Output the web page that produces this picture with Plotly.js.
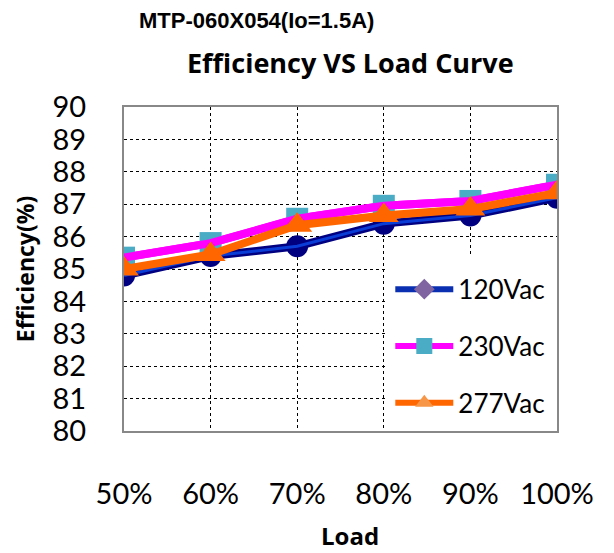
<!DOCTYPE html>
<html><head><meta charset="utf-8">
<script src="https://cdn.plot.ly/plotly-3.0.1.min.js"></script>
<style>html,body{margin:0;padding:0;background:#fff}#chart{width:614px;height:553px}</style>
</head><body><div id="chart"></div>
<script>
const loads = [50, 60, 70, 80, 90, 100];
const loadLabels = ['50%', '60%', '70%', '80%', '90%', '100%'];
const eff120 = [84.8, 85.4, 85.7, 86.4, 86.65, 87.2];
const eff230 = [85.35, 85.8, 86.55, 86.95, 87.1, 87.6];
const eff277 = [85.0, 85.45, 86.35, 86.65, 86.85, 87.35];
const seriesNames = ['120Vac', '230Vac', '277Vac'];
const yTicks = [80, 81, 82, 83, 84, 85, 86, 87, 88, 89, 90];

const traces = [
  {x: loads, y: eff120, mode: 'lines+markers', showlegend: false,
   line: {color: '#000080', width: 8}, marker: {symbol: 'circle', size: 22, color: '#000080'}},
  {x: loads, y: eff120, mode: 'lines', showlegend: false, hoverinfo: 'skip',
   line: {color: '#0a3cd6', width: 3}},
  {x: loads, y: eff230, mode: 'lines+markers', showlegend: false,
   line: {color: '#ff00ff', width: 8}, marker: {symbol: 'square', size: 22, color: '#4bacc6'}},
  {x: loads, y: eff230, mode: 'lines', showlegend: false, hoverinfo: 'skip',
   line: {color: '#ff00ff', width: 8}},
  {x: loads, y: eff277, mode: 'lines+markers', showlegend: false,
   line: {color: '#ff6600', width: 8}, marker: {symbol: 'triangle-up', size: 26, color: '#ff6600'}},
  {x: [null], y: [null], name: seriesNames[0], mode: 'lines+markers', legendgroup: 'a',
   line: {color: '#0a2fb0', width: 6}, marker: {symbol: 'diamond', size: 16, color: '#8064a2'}},
  {x: [null], y: [null], name: seriesNames[1], mode: 'lines+markers', legendgroup: 'b',
   line: {color: '#ff00ff', width: 6}, marker: {symbol: 'square', size: 16, color: '#4bacc6'}},
  {x: [null], y: [null], name: seriesNames[2], mode: 'lines+markers', legendgroup: 'c',
   line: {color: '#ff6600', width: 6}, marker: {symbol: 'triangle-up', size: 16, color: '#f79646'}}
];

const xMin = loads[0], xMax = loads[loads.length - 1];
const yMin = yTicks[0], yMax = yTicks[yTicks.length - 1];

const layout = {
  width: 614, height: 553,
  margin: {l: 124, r: 57, t: 107, b: 122},
  paper_bgcolor: '#fff', plot_bgcolor: '#fff',
  showlegend: true,
  legend: {x: 0.615, y: 0.51, xanchor: 'left', yanchor: 'top', bgcolor: 'rgba(0,0,0,0)',
    font: {family: 'Lato, sans-serif', size: 26, color: '#000'},
    traceorder: 'grouped', tracegroupgap: 20, itemwidth: 58},
  xaxis: {range: [xMin, xMax], tickvals: loads, ticktext: loadLabels,
    showgrid: true, gridcolor: '#000', griddash: 'dot', gridwidth: 1,
    showline: true, linecolor: '#888', linewidth: 2, mirror: true, zeroline: false,
    ticks: 'outside', ticklen: 0, ticklabelstandoff: 36,
    tickfont: {family: 'Lato, sans-serif', size: 29, color: '#000'}},
  yaxis: {range: [yMin, yMax], tickvals: yTicks,
    showgrid: true, gridcolor: '#000', griddash: 'dot', gridwidth: 1,
    showline: true, linecolor: '#888', linewidth: 2, mirror: true, zeroline: false,
    ticks: 'outside', ticklen: 0, ticklabelstandoff: 30,
    tickfont: {family: 'Lato, sans-serif', size: 29, color: '#000'},
    title: {text: '<b>Efficiency(%)</b>', font: {family: 'Open Sans, sans-serif', size: 23, color: '#000'}, standoff: 12}},
  shapes: [{type: 'rect', xref: 'x', yref: 'y',
    x0: xMin + 0.606 * (xMax - xMin), x1: xMax, y0: yMin, y1: yMin + 0.537 * (yMax - yMin),
    fillcolor: '#fff', line: {width: 0}, layer: 'between'}],
  annotations: [
    {text: '<b>MTP-060X054(Io=1.5A)</b>', xref: 'paper', yref: 'paper', x: 0.305, y: 1.0,
     xanchor: 'center', yanchor: 'middle', yshift: 87, showarrow: false,
     font: {family: 'Liberation Sans, Arial, sans-serif', size: 22, color: '#000'}},
    {text: '<b>Efficiency VS Load Curve</b>', xref: 'paper', yref: 'paper', x: 0.522, y: 1.0,
     xanchor: 'center', yanchor: 'middle', yshift: 45, showarrow: false,
     font: {family: 'Open Sans, sans-serif', size: 27, color: '#000'}},
    {text: '<b>Load</b>', xref: 'paper', yref: 'paper', x: 0.522, y: 0,
     xanchor: 'center', yanchor: 'middle', yshift: -104, showarrow: false,
     font: {family: 'Open Sans, sans-serif', size: 24, color: '#000'}}
  ]
};
Plotly.newPlot('chart', traces, layout, {displayModeBar: false});
</script></body></html>
